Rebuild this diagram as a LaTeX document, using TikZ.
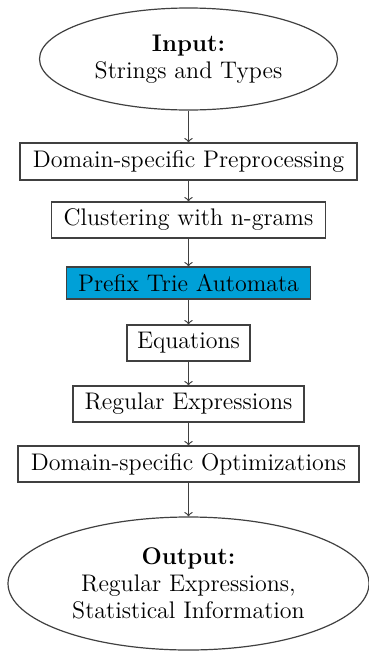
\documentclass[tikz,border=0pt]{standalone}
\usetikzlibrary{shapes.geometric}
\definecolor{trieblue}{RGB}{0,160,215}
\begin{document}
\begin{tikzpicture}[x=0.5pt,y=-0.5pt,
  every node/.style={font=\fontsize{12}{13.5}\selectfont},
  stepbox/.style={draw=black!75, line width=0.6pt, rectangle, inner sep=0pt},
  endell/.style={draw=black!75, line width=0.6pt, ellipse, inner sep=0pt, align=center},
  flow/.style={draw=black!75, line width=0.6pt, ->}]
\useasboundingbox (0,0) rectangle (369,654);
\node[endell, minimum width=298*0.5pt, minimum height=102*0.5pt] (in) at (188.5,59)
  {\textbf{Input:}\\Strings and Types};
\node[stepbox, minimum width=337*0.5pt, minimum height=37*0.5pt] (b1) at (188.5,161.5) {Domain-specific Preprocessing};
\node[stepbox, minimum width=274*0.5pt, minimum height=36*0.5pt] (b2) at (188.5,220) {Clustering with n-grams};
\node[stepbox, fill=trieblue, minimum width=244*0.5pt, minimum height=32*0.5pt] (b3) at (188.5,283) {Prefix Trie Automata};
\node[stepbox, minimum width=123*0.5pt, minimum height=36*0.5pt] (b4) at (188.5,343) {Equations};
\node[stepbox, minimum width=231*0.5pt, minimum height=36*0.5pt] (b5) at (188.5,404) {Regular Expressions};
\node[stepbox, minimum width=341*0.5pt, minimum height=36*0.5pt] (b6) at (188.5,464) {Domain-specific Optimizations};
\node[endell, minimum width=361*0.5pt, minimum height=133*0.5pt] (out) at (188.5,583.5)
  {\textbf{Output:}\\Regular Expressions,\\Statistical Information};
\draw[flow] (in) -- (b1);
\draw[flow] (b1) -- (b2);
\draw[flow] (b2) -- (b3);
\draw[flow] (b3) -- (b4);
\draw[flow] (b4) -- (b5);
\draw[flow] (b5) -- (b6);
\draw[flow] (b6) -- (out);
\end{tikzpicture}
\end{document}
